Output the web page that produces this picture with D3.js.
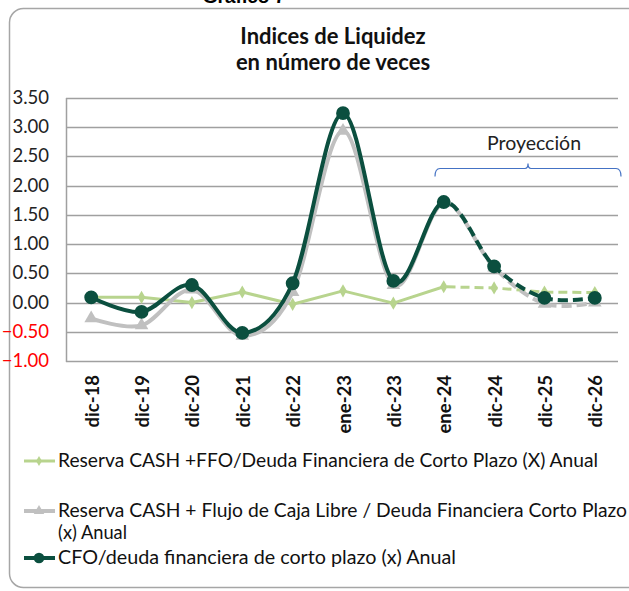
<!DOCTYPE html>
<html>
<head>
<meta charset="utf-8">
<script src="https://cdn.jsdelivr.net/npm/d3@7"></script>
<style>
  body { margin: 0; background: #fff; }
  svg { display: block; }
</style>
</head>
<body>
<svg id="chart"></svg>
<script>
const width = 629;
const height = 591;
const font = "Lato, 'Open Sans', sans-serif";

// data
const categories = ["dic-18", "dic-19", "dic-20", "dic-21", "dic-22", "ene-23", "dic-23", "ene-24", "dic-24", "dic-25", "dic-26"];
const reservaFFO = [0.09, 0.09, 0.00, 0.18, -0.03, 0.20, -0.01, 0.27, 0.25, 0.18, 0.17];
const reservaFCL = [-0.27, -0.39, 0.22, -0.57, 0.18, 2.94, 0.30, 1.70, 0.60, -0.02, 0.00];
const cfoDeuda = [0.09, -0.16, 0.30, -0.52, 0.33, 3.24, 0.37, 1.72, 0.62, 0.08, 0.08];
const yTicks = [3.5, 3.0, 2.5, 2.0, 1.5, 1.0, 0.5, 0.0, -0.5, -1.0];
const projectionStart = "ene-24";

const series = [
    { name: ["Reserva CASH +FFO/Deuda Financiera de Corto Plazo (X) Anual"], fit: [540], values: reservaFFO, color: "#b8d48e", width: 3, marker: "diamond", smooth: false },
    { name: ["Reserva CASH + Flujo de Caja Libre / Deuda Financiera Corto Plazo", "(x) Anual"], fit: [569, 69], values: reservaFCL, color: "#c0c0c0", width: 4, marker: "triangle", smooth: true },
    { name: ["CFO/deuda financiera de corto plazo (x) Anual"], fit: [398], values: cfoDeuda, color: "#0b4f3f", width: 4, marker: "circle", smooth: true }
];

const margin = { left: 66, right: 9, top: 98, bottom: 230 };
const plotW = width - margin.left - margin.right;

const svg = d3.select("#chart")
    .attr("width", width)
    .attr("height", height);

// outer frame (runs off the right edge like the source)
svg.append("rect")
    .attr("x", 9.5).attr("y", 8.5)
    .attr("width", 640).attr("height", 579)
    .attr("rx", 14)
    .attr("fill", "none")
    .attr("stroke", "#a6a6a6")
    .attr("stroke-width", 1.5);

// cut-off heading above the frame
svg.append("text")
    .attr("x", 244).attr("y", 3)
    .attr("text-anchor", "middle")
    .attr("font-family", "'Liberation Sans', Arial, sans-serif")
    .attr("font-weight", "bold")
    .attr("font-size", 19)
    .attr("fill", "#000")
    .text("Gráfico 7");

svg.append("text")
    .attr("x", 333).attr("y", 44)
    .attr("text-anchor", "middle")
    .attr("font-family", font)
    .attr("font-weight", "bold")
    .attr("font-size", 22)
    .attr("fill", "#111")
    .text("Indices de Liquidez");

svg.append("text")
    .attr("x", 333).attr("y", 70)
    .attr("text-anchor", "middle")
    .attr("font-family", font)
    .attr("font-weight", "bold")
    .attr("font-size", 22)
    .attr("fill", "#111")
    .text("en número de veces");

const x = d3.scalePoint()
    .domain(categories)
    .range([margin.left, margin.left + plotW])
    .padding(0.5);

const y = d3.scaleLinear()
    .domain([-1, 3.5])
    .range([361, 98]);

// gridlines
svg.append("g")
    .selectAll("line")
    .data(yTicks)
    .enter().append("line")
    .attr("x1", margin.left)
    .attr("x2", margin.left + plotW - 2)
    .attr("y1", d => Math.round(y(d)) + 0.5)
    .attr("y2", d => Math.round(y(d)) + 0.5)
    .attr("stroke", "#a0a0a0")
    .attr("stroke-width", 1.5);

// left axis line
svg.append("line")
    .attr("x1", margin.left + 0.5).attr("x2", margin.left + 0.5)
    .attr("y1", y(3.5)).attr("y2", y(-1) + 1)
    .attr("stroke", "#a0a0a0")
    .attr("stroke-width", 1.5);

// y labels
svg.append("g")
    .selectAll("text")
    .data(yTicks)
    .enter().append("text")
    .attr("x", 49)
    .attr("y", d => y(d) + 6)
    .attr("text-anchor", "end")
    .attr("font-family", font)
    .attr("font-size", 18.5)
    .attr("fill", d => d < 0 ? "#ff0000" : "#222")
    .text(d => d3.format(".2f")(d));

// x labels, rotated
svg.append("g")
    .selectAll("text")
    .data(categories)
    .enter().append("text")
    .attr("transform", d => "translate(" + (x(d) + 7.5) + ",375) rotate(-90)")
    .attr("text-anchor", "end")
    .attr("font-family", font)
    .attr("font-weight", "bold")
    .attr("font-size", 18.5)
    .attr("fill", "#111")
    .text(d => d);

// clip regions for solid (history) and dashed (projection) parts
const splitX = x(projectionStart);
const defs = svg.append("defs");
defs.append("clipPath").attr("id", "clipHist")
    .append("rect").attr("x", 0).attr("y", 0).attr("width", splitX).attr("height", height);
defs.append("clipPath").attr("id", "clipProj")
    .append("rect").attr("x", splitX).attr("y", 0).attr("width", width - splitX).attr("height", height);

function linePath(s) {
    return d3.line()
        .x((d, i) => x(categories[i]))
        .y(d => y(d))
        .curve(s.smooth ? d3.curveCatmullRom.alpha(0) : d3.curveLinear)(s.values);
}

function markerPath(type, size) {
    if (type === "diamond") return d3.symbol(d3.symbolDiamond, size)();
    if (type === "triangle") return d3.symbol(d3.symbolTriangle, size)();
    return d3.symbol(d3.symbolCircle, size)();
}

const markerSize = { diamond: 50, triangle: 80, circle: 150 };

series.forEach(s => {
    const g = svg.append("g");
    g.append("path")
        .attr("d", linePath(s))
        .attr("clip-path", "url(#clipHist)")
        .attr("fill", "none")
        .attr("stroke", s.color)
        .attr("stroke-width", s.width)
        .attr("stroke-linejoin", "round");
    g.append("path")
        .attr("d", linePath(s))
        .attr("clip-path", "url(#clipProj)")
        .attr("fill", "none")
        .attr("stroke", s.color)
        .attr("stroke-width", s.width)
        .attr("stroke-dasharray", s.width === 3 ? "9,5" : "10,5");
    g.selectAll(".pt")
        .data(s.values).enter()
        .append("path")
        .attr("transform", (d, i) => "translate(" + x(categories[i]) + "," + y(d) + ")")
        .attr("d", markerPath(s.marker, markerSize[s.marker]))
        .attr("fill", s.color);
});

// "Proyección" bracket
const bx1 = 435, bx2 = 621, bmid = 528, by = 168.5;
svg.append("path")
    .attr("d", "M" + bx1 + "," + (by + 8) + " Q" + bx1 + "," + by + " " + (bx1 + 5) + "," + by +
        " L" + (bmid - 3) + "," + by + " Q" + bmid + "," + by + " " + bmid + "," + (by - 5) +
        " Q" + bmid + "," + by + " " + (bmid + 3) + "," + by +
        " L" + (bx2 - 5) + "," + by + " Q" + bx2 + "," + by + " " + bx2 + "," + (by + 8))
    .attr("fill", "none")
    .attr("stroke", "#4472c4")
    .attr("stroke-width", 1.2);

svg.append("text")
    .attr("x", 534).attr("y", 150)
    .attr("text-anchor", "middle")
    .attr("font-family", font)
    .attr("font-size", 19.5)
    .attr("fill", "#222")
    .text("Proyección");

// legend
const legendRows = [461, 511, 558];
series.forEach((s, i) => {
    const ly = legendRows[i];
    const lg = svg.append("g");
    lg.append("line")
        .attr("x1", 24).attr("x2", 55)
        .attr("y1", ly).attr("y2", ly)
        .attr("stroke", s.color)
        .attr("stroke-width", s.width);
    lg.append("path")
        .attr("transform", "translate(39," + ly + ")")
        .attr("d", markerPath(s.marker, markerSize[s.marker] * 0.6))
        .attr("fill", s.color);
    s.name.forEach((line, j) => {
        lg.append("text")
            .attr("x", 58)
            .attr("y", ly + 6 + j * 22)
            .attr("font-family", font)
            .attr("font-size", 18.5)
            .attr("textLength", s.fit[j])
            .attr("lengthAdjust", "spacingAndGlyphs")
            .attr("fill", "#111")
            .text(line);
    });
});
</script>
</body>
</html>
